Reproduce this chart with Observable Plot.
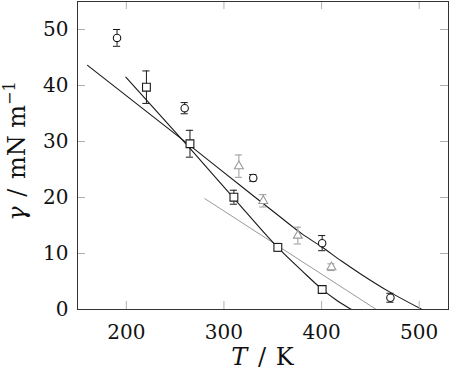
<!DOCTYPE html>
<html><head><meta charset="utf-8">
<script src="https://cdn.jsdelivr.net/npm/d3@7"></script>
<script src="https://cdn.jsdelivr.net/npm/@observablehq/plot@0.6"></script>
<style>body{margin:0;background:#fff} svg{display:block}</style>
</head><body><div id="chart"></div>
<script>
// Tick values
const xTicks = [200, 300, 400, 500];
const yTicks = [0, 10, 20, 30, 40, 50];

// Circle series (T, gamma, error)
const circT = [190.5, 259.8, 330, 400.6, 470.5];
const circG = [48.5, 35.95, 23.5, 11.85, 2.1];
const circE = [1.5, 1.0, 0.6, 1.35, 0.8];

// Square series
const sqT = [220.6, 265.2, 310.2, 355.2, 400.6];
const sqG = [39.7, 29.6, 20.05, 11.1, 3.57];
const sqE = [2.9, 2.4, 1.25, 0.7, 0.3];

// Triangle series (gray)
const triT = [315.3, 340.3, 375.7, 410.1];
const triG = [25.6, 19.4, 13.2, 7.55];
const triE = [2.0, 1.1, 1.5, 0.6];

// Fitted curves
const lineAT = [160.3, 265, 320, 360, 380, 400, 420, 440, 470, 503];
const lineAG = [43.6, 29.3, 21.7, 16.2, 13.5, 11.2, 8.7, 6.35, 3.1, 0];
const lineBT = [199.5, 265, 310, 355, 380, 400.6, 415, 430.6];
const lineBG = [41.5, 28.8, 19.9, 11.1, 6.9, 3.6, 1.7, 0];
const lineCT = [280.4, 456];
const lineCG = [19.8, 0];

const zip = (T, G, E) => T.map((t, i) => ({T: t, g: G[i], e: E ? E[i] : 0}));
const circles = zip(circT, circG, circE);
const squares = zip(sqT, sqG, sqE);
const tris = zip(triT, triG, triE);
const lineA = zip(lineAT, lineAG);
const lineB = zip(lineBT, lineBG);
const lineC = zip(lineCT, lineCG);

const W = 449, H = 376, mL = 77, mR = 1, mT = 1, mB = 67;
const plotW = W - mL - mR, plotH = H - mT - mB;
const tickLen = 8;
const black = "#1a1a1a", gray = "#9a9a9a";
const serif = "DejaVu Serif";

function errMarks(data, color) {
  return [
    Plot.ruleX(data, {x: "T", y1: d => d.g - d.e, y2: d => d.g + d.e, stroke: color, strokeWidth: 1}),
    Plot.ruleY(data, {y: d => d.g + d.e, x1: "T", x2: "T", insetLeft: -3.6, insetRight: -3.6, stroke: color, strokeWidth: 1}),
    Plot.ruleY(data, {y: d => d.g - d.e, x1: "T", x2: "T", insetLeft: -3.6, insetRight: -3.6, stroke: color, strokeWidth: 1})
  ];
}

const plot = Plot.plot({
  width: W, height: H,
  marginLeft: mL, marginRight: mR, marginTop: mT, marginBottom: mB,
  style: {fontFamily: serif, fontSize: "20px", color: "#111", background: "#fff"},
  x: {domain: [150, 530]},
  y: {domain: [0, 55]},
  marks: [
    Plot.line(lineC, {x: "T", y: "g", stroke: gray, strokeWidth: 1}),
    Plot.line(lineA, {x: "T", y: "g", stroke: black, strokeWidth: 1.1, curve: "monotone-x"}),
    Plot.line(lineB, {x: "T", y: "g", stroke: black, strokeWidth: 1.1, curve: "monotone-x"}),
    Plot.tickX(xTicks, {x: d => d, insetTop: plotH - tickLen, stroke: "#b0b0b0"}),
    Plot.tickX(xTicks, {x: d => d, insetBottom: plotH - tickLen, stroke: "#b0b0b0"}),
    Plot.tickY(yTicks, {y: d => d, insetRight: plotW - tickLen, stroke: "#b0b0b0"}),
    Plot.tickY(yTicks, {y: d => d, insetLeft: plotW - tickLen, stroke: "#b0b0b0"}),
    Plot.frame({stroke: "#333", strokeWidth: 1}),
    Plot.axisX({ticks: xTicks, tickSize: 0, tickPadding: 15, label: null, fontSize: 20, fontFamily: serif}),
    Plot.axisY({ticks: yTicks, tickSize: 0, tickPadding: 9, label: null, fontSize: 20, fontFamily: serif}),
    ...errMarks(tris, gray),
    ...errMarks(circles, black),
    ...errMarks(squares, black),
    Plot.dot(tris, {x: "T", y: "g", symbol: "triangle", r: 3.3, stroke: gray, fill: "white", strokeWidth: 1.1}),
    Plot.dot(circles, {x: "T", y: "g", symbol: "circle", r: 3.7, stroke: black, fill: "white", strokeWidth: 1.1}),
    Plot.dot(squares, {x: "T", y: "g", symbol: "square", r: 4.4, stroke: black, fill: "white", strokeWidth: 1.1})
  ]
});

const svg = d3.select(plot);
const xl = svg.append("text")
  .attr("x", (mL + W - mR) / 2).attr("y", 365)
  .attr("text-anchor", "middle")
  .attr("font-family", serif)
  .attr("font-size", 24).attr("fill", "#111")
  .style("white-space", "pre");
xl.append("tspan").attr("font-style", "italic").text("T");
xl.append("tspan").attr("dx", 3).text(" / ");
xl.append("tspan").attr("dx", 2).text("K");

const yl = svg.append("text")
  .attr("transform", `translate(25,${(mT + H - mB) / 2 - 4}) rotate(-90)`)
  .attr("text-anchor", "middle")
  .attr("font-family", serif)
  .attr("font-size", 24).attr("fill", "#111")
  .style("white-space", "pre");
yl.append("tspan").attr("font-style", "italic").text("γ");
yl.append("tspan").attr("dx", 2).text(" / ");
yl.append("tspan").attr("dx", 2).text("mN m");
yl.append("tspan").attr("font-size", 16).attr("dy", -10).text("−1");

svg.selectAll("text").attr("font-family", serif);

document.getElementById("chart").appendChild(plot);
</script>
</body></html>
